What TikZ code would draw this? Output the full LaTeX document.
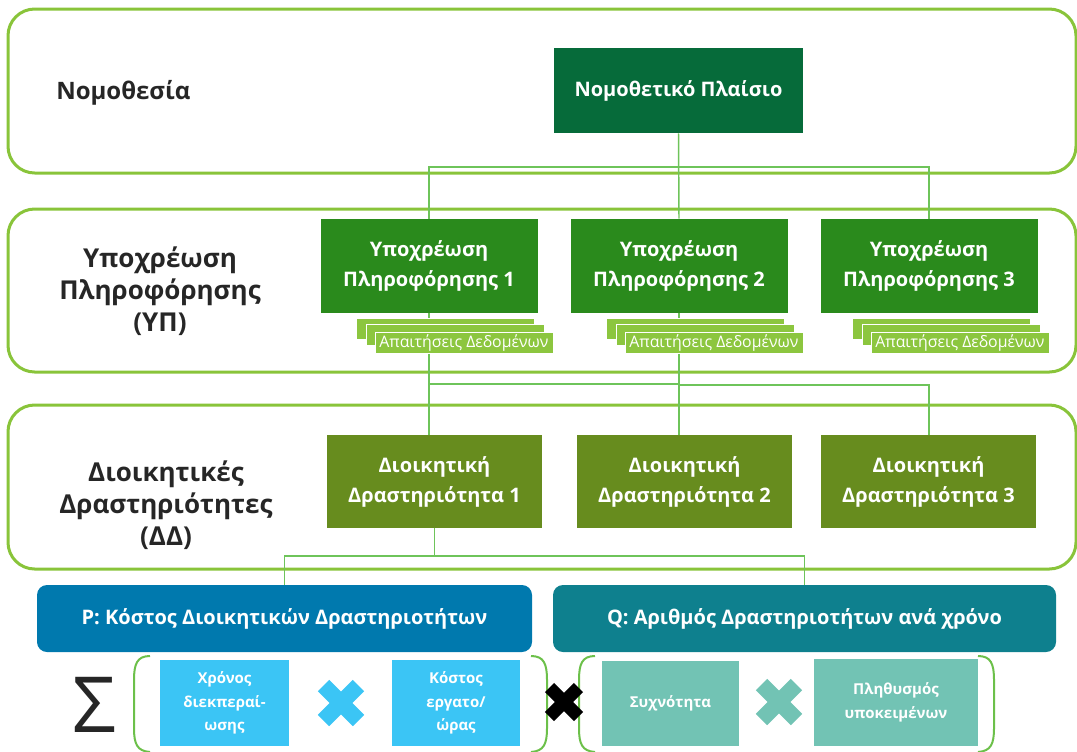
\documentclass[tikz,border=0pt]{standalone}
\usepackage{fontspec}
\setmainfont{Open Sans}
\definecolor{panelc}{RGB}{137,196,58}
\definecolor{connc}{RGB}{110,196,90}
\definecolor{lawc}{RGB}{6,107,58}
\definecolor{ypc}{RGB}{42,138,28}
\definecolor{reqc}{RGB}{140,198,63}
\definecolor{dac}{RGB}{103,140,30}
\definecolor{pc}{RGB}{0,121,174}
\definecolor{qc}{RGB}{14,128,142}
\definecolor{lblue}{RGB}{59,197,245}
\definecolor{lteal}{RGB}{114,195,180}
\definecolor{brc}{RGB}{108,192,74}
\definecolor{txtc}{RGB}{38,38,38}
\tikzset{
  panel/.style={draw=panelc, line width=2.25pt, rounded corners=20pt},
  conn/.style={draw=connc, line width=1.1pt},
  box/.style={text=white, font=\bfseries\fontsize{15}{22.5}\selectfont, align=center, inner sep=0pt},
  lbl/.style={text=txtc, font=\bfseries\fontsize{19.5}{24}\selectfont, align=center, inner sep=0pt},
  req/.style={fill=reqc, draw=white, line width=0.6pt, minimum width=133.5pt, minimum height=15.75pt, inner sep=0pt, text=white, font=\fontsize{11.9}{13}\selectfont},
  small/.style={text=white, font=\bfseries\fontsize{11.25}{17.6}\selectfont, align=center, inner sep=0pt},
  bracket/.style={draw=brc, line width=1.5pt},
  xmark/.style={line width=12pt, line cap=butt}
}
\begin{document}
\begin{tikzpicture}[x=0.75pt,y=-0.75pt]
\useasboundingbox (0,0) rectangle (1077,751);
\clip (0,0) rectangle (1077,751);
% panels
\draw[panel] (8,9) rectangle (1076,173);
\draw[panel] (8,209) rectangle (1076,372);
\draw[panel] (8,405) rectangle (1076,569);
% row labels
\node[lbl, anchor=west, font=\bfseries\fontsize{18}{24}\selectfont] (l1) at (56,93) {Νομοθεσία};
\node[lbl] (l2) at (160,291) {Υποχρέωση\\Πληροφόρησης\\(ΥΠ)};
\node[lbl] (l3) at (166,505) {Διοικητικές\\Δραστηριότητες\\(ΔΔ)};
% nodes
\node[box, fill=lawc, minimum width=186.75pt, minimum height=63.75pt] (law) at (678.5,90.5) {Νομοθετικό Πλαίσιο};
\node[box, fill=ypc, minimum width=162.75pt, minimum height=70.5pt] (yp1) at (429,266) {Υποχρέωση\\Πληροφόρησης 1};
\node[box, fill=ypc, minimum width=162.75pt, minimum height=70.5pt] (yp2) at (679,266) {Υποχρέωση\\Πληροφόρησης 2};
\node[box, fill=ypc, minimum width=162.75pt, minimum height=70.5pt] (yp3) at (929,266) {Υποχρέωση\\Πληροφόρησης 3};
\node[box, fill=dac, minimum width=161.25pt, minimum height=69.75pt] (da1) at (434.5,481.5) {Διοικητική\\Δραστηριότητα 1};
\node[box, fill=dac, minimum width=161.25pt, minimum height=69.75pt] (da2) at (684.5,481.5) {Διοικητική\\Δραστηριότητα 2};
\node[box, fill=dac, minimum width=161.25pt, minimum height=69.75pt] (da3) at (928.5,481.5) {Διοικητική\\Δραστηριότητα 3};
\node[box, fill=pc, rounded corners=7.5pt, minimum width=371.25pt, minimum height=50.25pt] (p) at (284.5,618.5) {P: Κόστος Διοικητικών Δραστηριοτήτων};
\node[box, fill=qc, rounded corners=7.5pt, minimum width=377.25pt, minimum height=50.25pt] (q) at (804.5,618.5) {Q: Αριθμός Δραστηριοτήτων ανά χρόνο};
% helper coordinates
\coordinate (h1) at (0,167);
\coordinate (h2) at (0,384);
\coordinate (h3) at (0,556);
% connectors
\draw[conn] (law.south) -- (yp2.north);
\draw[conn] (yp1.north) -- (yp1.north |- h1) -- (yp3.north |- h1) -- (yp3.north);
\draw[conn] (yp1.south) -- (yp1.south |- da1.north);
\draw[conn] (yp1.south |- h2) -- (yp2.south |- h2) -- (yp2.south |- da2.north);
\draw[conn] (yp2.south) -- (yp2.south |- h2) -- ([yshift=-0.75pt]yp2.south |- h2) -- ([yshift=-0.75pt]yp3.south |- h2) -- (yp3.south |- da3.north);
\draw[conn] (da1.south) -- (da1.south |- h3);
\draw[conn] (p.north) -- (p.north |- h3) -- (q.north |- h3) -- (q.north);
% data requirement stacks
\foreach \i/\dx in {1/0,2/250,3/496}{
  \node[req] (ra\i) at (445+\dx,328.5) {};
  \node[req] (rb\i) at (455+\dx,334.5) {};
  \node[req] (rc\i) at (464+\dx,342.5) {Απαιτήσεις Δεδομένων};
}
% bottom formula
\node[text=txtc, font=\fontsize{58}{60}\selectfont, inner sep=0pt] (sigma) at (94,705) {Σ};
\node[small, fill=lblue, minimum width=96.75pt, minimum height=64.5pt] (chr) at (224.5,703) {Χρόνος\\διεκπεραί-\\ωσης};
\node[small, fill=lblue, minimum width=96pt, minimum height=64.5pt] (kos) at (456,703) {Κόστος\\εργατο/\\ώρας};
\node[small, fill=lteal, minimum width=102.75pt, minimum height=63.75pt] (syx) at (670.5,703.5) {Συχνότητα};
\node[small, fill=lteal, minimum width=123pt, minimum height=65.25pt] (pli) at (896,702.5) {Πληθυσμός\\υποκειμένων};
% brackets
\draw[bracket] (150,656) .. controls (137,656) and (134,664) .. (134,680) -- (134,728) .. controls (134,744) and (137,751) .. (150,752);
\draw[bracket] (531,656) .. controls (544,656) and (547,664) .. (547,680) -- (547,728) .. controls (547,744) and (544,751) .. (531,752);
\draw[bracket] (595,656) .. controls (582,656) and (579,664) .. (579,680) -- (579,728) .. controls (579,744) and (582,751) .. (595,752);
\draw[bracket] (978,656) .. controls (991,656) and (994,664) .. (994,680) -- (994,728) .. controls (994,744) and (991,751) .. (978,752);
% multiplication marks
\coordinate (x1) at (341,703);
\coordinate (x2) at (564,702);
\coordinate (x3) at (779,702);
\draw[xmark, draw=lblue] ([shift={(-17.5,-17.5)}]x1) -- ([shift={(17.5,17.5)}]x1);
\draw[xmark, draw=lblue] ([shift={(-17.5,17.5)}]x1) -- ([shift={(17.5,-17.5)}]x1);
\draw[xmark, draw=black, line width=9.75pt] ([shift={(-14.5,-14.5)}]x2) -- ([shift={(14.5,14.5)}]x2);
\draw[xmark, draw=black, line width=9.75pt] ([shift={(-14.5,14.5)}]x2) -- ([shift={(14.5,-14.5)}]x2);
\draw[xmark, draw=lteal] ([shift={(-17.5,-17.5)}]x3) -- ([shift={(17.5,17.5)}]x3);
\draw[xmark, draw=lteal] ([shift={(-17.5,17.5)}]x3) -- ([shift={(17.5,-17.5)}]x3);
\end{tikzpicture}
\end{document}
